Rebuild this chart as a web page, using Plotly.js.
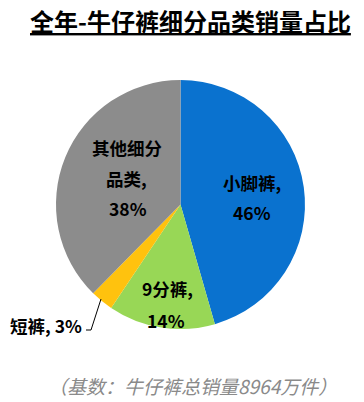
<!DOCTYPE html>
<html><head><meta charset="utf-8">
<script src="https://cdn.plot.ly/plotly-3.0.1.min.js"></script>
<style>html,body{margin:0;padding:0;background:#fff;}#c{width:364px;height:402px;}</style>
</head><body><div id="c"></div>
<script>
const categories = ["小脚裤", "9分裤", "短裤", "其他细分品类"];
const values = [46, 14, 3, 38];
const colors = ["#0A72CF", "#98D756", "#FFC20E", "#8C8C8C"];
const labelLines = [["小脚裤,", "46%"], ["9分裤,", "14%"], ["短裤, 3%"], ["其他细分", "品类,", "38%"]];
const titleText = "全年-牛仔裤细分品类销量占比";
const noteText = "（基数：牛仔裤总销量8964万件）";

const W = 364, H = 402;
const px = x => x / W, py = y => 1 - y / H;
const font = "'Noto Sans CJK SC', 'Microsoft YaHei', sans-serif";

// label anchor positions (pixels) for each category's lines
const labelPos = [
  [[252, 182], [252, 212]],
  [[167, 288], [166, 320]],
  [[46, 325]],
  [[127, 147], [126, 178], [128, 208]]
];

const annotations = [];
labelLines.forEach((lines, i) => {
  lines.forEach((t, j) => {
    const [x, y] = labelPos[i][j];
    annotations.push({xref: 'paper', yref: 'paper', x: px(x), y: py(y), text: t, showarrow: false,
      xanchor: 'center', yanchor: 'middle', font: {family: font, size: 17.5, color: '#000', weight: 'bold'}});
  });
});
annotations.push({xref: 'paper', yref: 'paper', x: px(190.5), y: py(20), text: '<u>' + titleText + '</u>', showarrow: false,
  xanchor: 'center', yanchor: 'middle', font: {family: font, size: 24, color: '#000', weight: 'bold'}});
annotations.push({xref: 'paper', yref: 'paper', x: px(192), y: py(385), text: '<i>' + noteText + '</i>', showarrow: false,
  xanchor: 'center', yanchor: 'middle', font: {family: font, size: 19, color: '#8a8a8a'}});

const cx = 180.5, cy = 204.5, r = 124.5;
const data = [{
  type: 'pie', labels: categories, values: values, sort: false, direction: 'clockwise', rotation: 0,
  marker: {colors: colors, line: {width: 0}}, textinfo: 'none', hoverinfo: 'label+percent',
  domain: {x: [px(cx - r), px(cx + r)], y: [py(cy + r), py(cy - r)]}, showlegend: false
}];

const layout = {
  width: W, height: H, margin: {l: 0, r: 0, t: 0, b: 0}, paper_bgcolor: '#fff', showlegend: false,
  annotations: annotations,
  shapes: [{type: 'path', xref: 'paper', yref: 'paper', line: {color: '#000', width: 1},
    path: `M ${px(86)} ${py(330)} L ${px(91)} ${py(330)} L ${px(101)} ${py(299)}`}]
};
Plotly.newPlot('c', data, layout, {staticPlot: true});
</script></body></html>
